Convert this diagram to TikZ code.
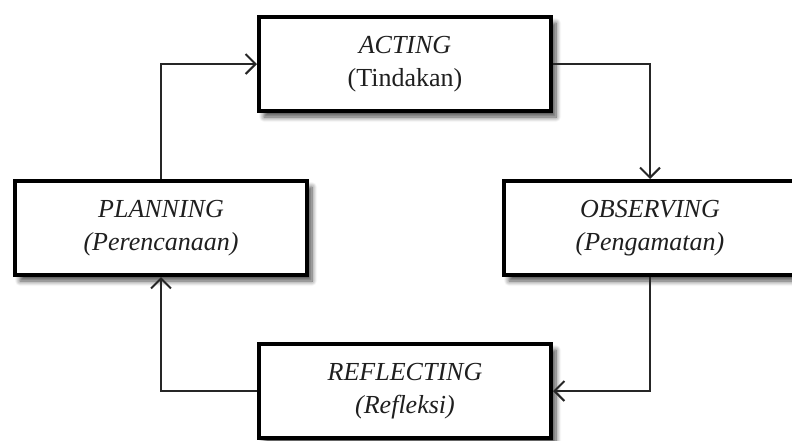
\documentclass[tikz,border=0pt]{standalone}
\usepackage{fontspec}
\setmainfont{Liberation Serif}
\usetikzlibrary{arrows.meta,shadows.blur}
\begin{document}
\begin{tikzpicture}[x=1pt,y=-1pt,
  stage/.style={draw=black, line width=4pt, fill=white, minimum width=292pt, minimum height=94pt,
    align=center, font=\fontsize{26}{33}\selectfont, text=black!88,
    blur shadow={shadow xshift=5pt, shadow yshift=-6pt, shadow blur steps=8, shadow opacity=70, shadow blur radius=5pt}},
  link/.style={draw=black!85, line width=2pt, -{Straight Barb[length=10pt,width=20pt,line width=2pt]}}]
\useasboundingbox (0,0) rectangle (792,440);
\node[stage] (ac) at (405,64) {\textit{ACTING}\\(Tindakan)};
\node[stage] (pl) at (161,228) {\textit{PLANNING}\\\textit{(Perencanaan)}};
\node[stage] (ob) at (650,228) {\textit{OBSERVING}\\\textit{(Pengamatan)}};
\node[stage] (re) at (405,391) {\textit{REFLECTING}\\\textit{(Refleksi)}};
\draw[link] (pl.north) |- (ac.west);
\draw[link] (ac.east) -| (ob.north);
\draw[link] (ob.south) |- (re.east);
\draw[link] (re.west) -| (pl.south);
\end{tikzpicture}
\end{document}
